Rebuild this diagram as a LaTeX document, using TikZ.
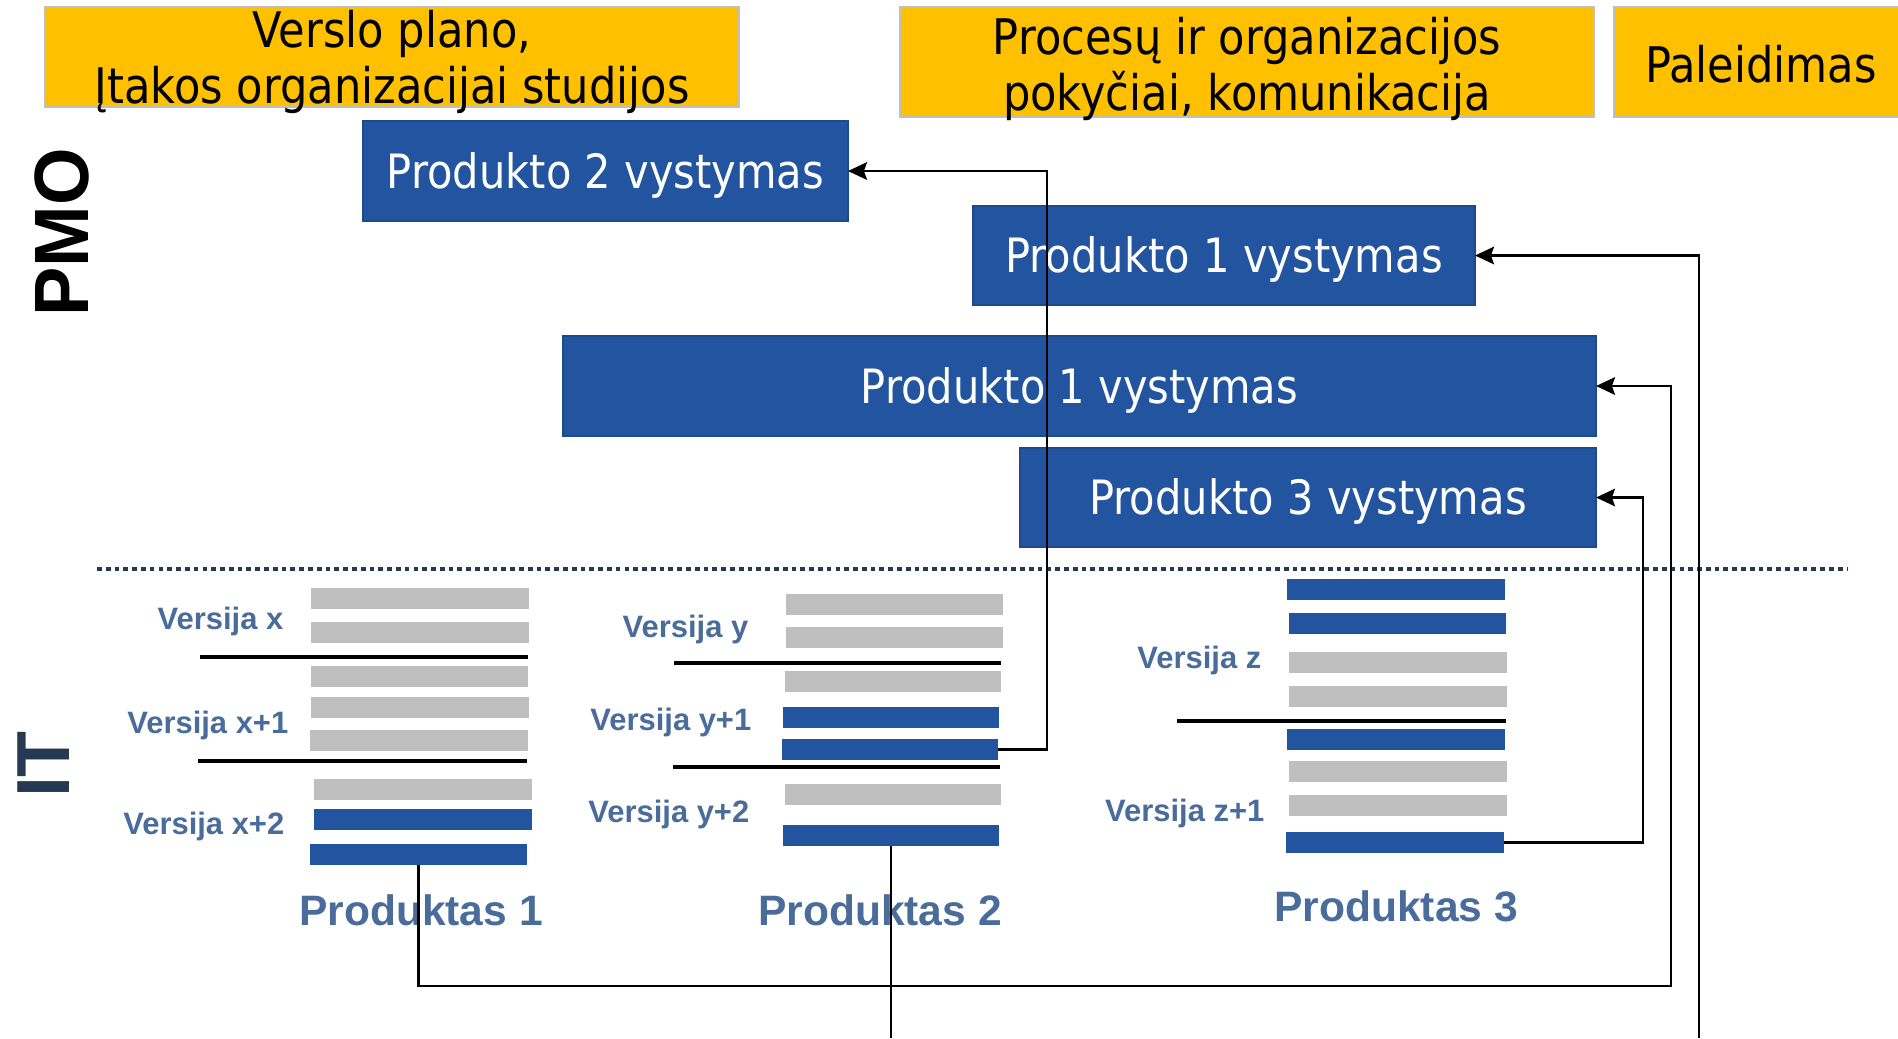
\documentclass[tikz,border=0pt]{standalone}
\usepackage{fontspec}
\setmainfont{Liberation Sans}
\newfontfamily\boxfont[FakeStretch=0.88]{DejaVu Sans}
\usetikzlibrary{arrows.meta}
\definecolor{yel}{HTML}{FFC000}
\definecolor{ybord}{HTML}{BFBFBF}
\definecolor{pblue}{HTML}{2254A0}
\definecolor{pbord}{HTML}{1D4A8C}
\definecolor{gbar}{HTML}{BFBFBF}
\definecolor{lblc}{HTML}{4A6C9B}
\definecolor{navy}{HTML}{253A52}
\newcommand\rectnode[7]{%
  \pgfmathsetmacro\rw{(#5-#3)*0.01}%
  \pgfmathsetmacro\rh{(#6-#4)*0.01}%
  \node[#1, minimum width=\rw cm, minimum height=\rh cm] (#2) at ({(#3+#5)/2},{(#4+#6)/2}) {#7};}
\tikzset{
  ybox/.style={fill=yel, draw=ybord, line width=0.6pt, inner sep=0pt, outer sep=0pt},
  ytext/.style={font=\boxfont\fontsize{13.95}{15.8}\selectfont, align=center, inner sep=0pt, text=black},
  bbox/.style={fill=pblue, draw=pbord, line width=0.5pt, inner sep=0pt, outer sep=0pt, text=white,
    font=\boxfont\fontsize{13.45}{15.3}\selectfont, text height=9.8pt, text depth=0pt},
  gbarst/.style={fill=gbar, inner sep=0pt, outer sep=0pt},
  bbarst/.style={fill=pblue, inner sep=0pt, outer sep=0pt},
  vlabel/.style={font=\bfseries\fontsize{8.8}{10}\selectfont, text=lblc, inner sep=0pt, anchor=east, text height=6.3pt, text depth=0pt},
  plabel/.style={font=\bfseries\fontsize{12.1}{14}\selectfont, text=lblc, inner sep=0pt, text height=8.66pt, text depth=0pt},
  sepline/.style={line width=1pt, black},
  conn/.style={line width=0.7pt, black, -{Stealth[length=5.4pt,width=5pt,inset=0.9pt]}},
  plainconn/.style={line width=0.7pt, black},
  dotsep/.style={line width=0.95pt, navy, dash pattern=on 1.35pt off 1.15pt}
}
\begin{document}
\begin{tikzpicture}[x=0.01cm, y=-0.01cm]
\useasboundingbox (0,0) rectangle (1898,1038);
% yellow phase boxes
\rectnode{ybox}{Y1}{45}{7}{739}{107}{}
\rectnode{ybox}{Y2}{900}{7}{1594}{117}{}
\rectnode{ybox}{Y3}{1614}{7}{1899}{117}{}
\node[ytext] (Y1t) at (392,62) {Verslo plano,\\Įtakos organizacijai studijos};
\node[ytext] (Y2t) at (1247,69) {Procesų ir organizacijos\\pokyčiai, komunikacija};
\node[ytext, text height=10.2pt, text depth=0pt] (Y3t) at (1761,64.5) {Paleidimas};
% blue development boxes
\rectnode{bbox}{P2}{363}{121}{848}{221}{Produkto 2 vystymas}
\rectnode{bbox}{P1a}{973}{206}{1475}{305}{Produkto 1 vystymas}
\rectnode{bbox}{P1b}{563}{336}{1596}{436}{Produkto 1 vystymas}
\rectnode{bbox}{P3}{1020}{448}{1596}{547}{Produkto 3 vystymas}
% side titles
\node[rotate=90, font=\bfseries\fontsize{21.9}{24}\selectfont, inner sep=0pt, text height=15.7pt, text depth=0pt] (PMO) at (60.5,232.5) {\scalebox{0.96}[1]{PMO}};
\node[rotate=90, font=\bfseries\fontsize{21.4}{24}\selectfont, text=navy, inner sep=0pt, text height=15.3pt, text depth=0pt] (IT) at (43,764.5) {IT};
% dotted separator
\draw[dotsep] (97,569) -- (1848,569);
% Product 1 bars
\rectnode{gbarst}{x1}{311}{588}{529}{609}{}
\rectnode{gbarst}{x2}{311}{622}{529}{643}{}
\rectnode{gbarst}{x3}{311}{666}{528}{687}{}
\rectnode{gbarst}{x4}{311}{697}{529}{718}{}
\rectnode{gbarst}{x5}{310}{730}{528}{751}{}
\rectnode{gbarst}{x6}{314}{779}{532}{800}{}
\rectnode{bbarst}{x7}{314}{809}{532}{830}{}
\rectnode{bbarst}{x8}{310}{844}{527}{865}{}
\draw[sepline] (200,657) -- (528,657);
\draw[sepline] (198,761) -- (527,761);
% Product 2 bars
\rectnode{gbarst}{y1}{786}{594}{1003}{615}{}
\rectnode{gbarst}{y2}{786}{627}{1003}{648}{}
\rectnode{gbarst}{y3}{785}{671}{1001}{692}{}
\rectnode{bbarst}{y4}{783}{707}{999}{728}{}
\rectnode{bbarst}{y5}{782}{739}{998}{760}{}
\rectnode{gbarst}{y6}{785}{784}{1001}{805}{}
\rectnode{bbarst}{y7}{783}{825}{999}{846}{}
\draw[sepline] (674,663) -- (1001,663);
\draw[sepline] (673,767) -- (1000,767);
% Product 3 bars
\rectnode{bbarst}{z1}{1287}{579}{1505}{600}{}
\rectnode{bbarst}{z2}{1289}{613}{1506}{634}{}
\rectnode{gbarst}{z3}{1289}{652}{1507}{673}{}
\rectnode{gbarst}{z4}{1289}{686}{1507}{707}{}
\rectnode{bbarst}{z5}{1287}{729}{1505}{750}{}
\rectnode{gbarst}{z6}{1289}{761}{1507}{782}{}
\rectnode{gbarst}{z7}{1289}{795}{1507}{816}{}
\rectnode{bbarst}{z8}{1286}{832}{1504}{853}{}
\draw[sepline] (1177,721) -- (1506,721);
% version labels
\node[vlabel] (vx0) at (284,618) {Versija x};
\node[vlabel] (vx1) at (289,722) {Versija x+1};
\node[vlabel] (vx2) at (285,823) {Versija x+2};
\node[vlabel] (vy0) at (749,626) {Versija y};
\node[vlabel] (vy1) at (752,719) {Versija y+1};
\node[vlabel] (vy2) at (750,811) {Versija y+2};
\node[vlabel] (vz0) at (1262,657) {Versija z};
\node[vlabel] (vz1) at (1265,810) {Versija z+1};
% product labels
\node[plabel] (pr1) at (421,910) {Produktas 1};
\node[plabel] (pr2) at (880,910) {Produktas 2};
\node[plabel] (pr3) at (1396,906) {Produktas 3};
% connectors
\coordinate (k1) at (1671,986);
\coordinate (k2) at (1047,0);
\coordinate (k3) at (1643,0);
\coordinate (k4) at (1699,1038);
\coordinate (k5) at (891,1038);
\draw[conn] (x8.south) |- (k1) |- (P1b.east);
\draw[conn] (y5.east) -| (k2 |- P2.east) -- (P2.east);
\draw[conn] (z8.east) -| (k3 |- P3.east) -- (P3.east);
\draw[conn] (k4) |- (P1a.east);
\draw[plainconn] (y7.south) -- (y7.south |- k5);
\end{tikzpicture}
\end{document}
